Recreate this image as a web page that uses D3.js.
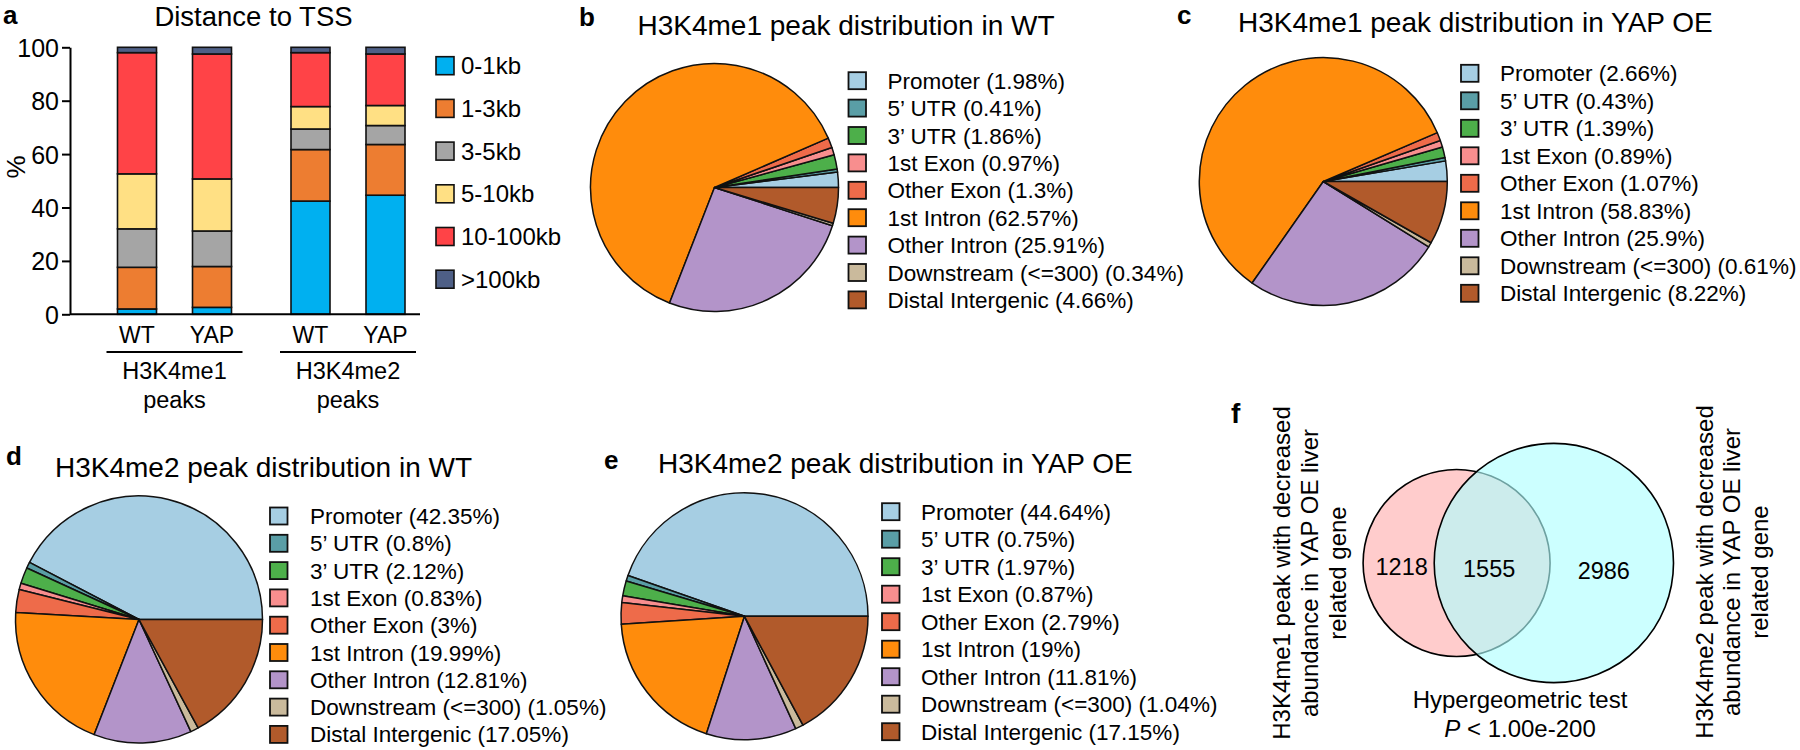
<!DOCTYPE html>
<html>
<head>
<meta charset="utf-8">
<script src="https://cdn.jsdelivr.net/npm/d3@7"></script>
<style>
  html, body { margin: 0; padding: 0; background: #fff; }
  svg { display: block; }
  text { font-family: "Liberation Sans", Arial, Helvetica, sans-serif; fill: #000; }
</style>
</head>
<body>
<svg id="chart" width="1800" height="750"></svg>
<script>
// ---------------- DATA ----------------
// Panel a: distance to TSS (stacked %)
const distCats = ["0-1kb", "1-3kb", "3-5kb", "5-10kb", "10-100kb", ">100kb"];
const distColors = ["#00B0F0", "#ED7D31", "#A5A5A5", "#FFE084", "#FF4347", "#4E5F86"];
const barGroups = ["H3K4me1", "H3K4me2"];
const barConds = ["WT", "YAP"];
const me1WT  = [2.0, 15.6, 14.4, 20.6, 45.4, 2.0];
const me1YAP = [2.6, 15.3, 13.3, 19.5, 46.8, 2.5];
const me2WT  = [42.4, 19.3, 7.7, 8.4, 20.2, 2.0];
const me2YAP = [44.6, 19.0, 7.1, 7.5, 19.3, 2.5];
const yTicks = [0, 20, 40, 60, 80, 100];

// Panels b-e: peak annotation (%)
const annoCats = ["Promoter", "5\u2019 UTR", "3\u2019 UTR", "1st Exon", "Other Exon",
                  "1st Intron", "Other Intron", "Downstream (<=300)", "Distal Intergenic"];
const annoColors = ["#A6CEE3", "#5A9EA6", "#4DAF4A", "#F88E8E", "#EE6B4A",
                    "#FF8C0C", "#B394C9", "#CABA9C", "#B15A2B"];
const annoMe1WT  = [1.98, 0.41, 1.86, 0.97, 1.3, 62.57, 25.91, 0.34, 4.66];
const annoMe1YAP = [2.66, 0.43, 1.39, 0.89, 1.07, 58.83, 25.9, 0.61, 8.22];
const annoMe2WT  = [42.35, 0.8, 2.12, 0.83, 3, 19.99, 12.81, 1.05, 17.05];
const annoMe2YAP = [44.64, 0.75, 1.97, 0.87, 2.79, 19, 11.81, 1.04, 17.15];

// Panel f: Venn
const vennOnlyA = 1218;
const vennBoth = 1555;
const vennOnlyB = 2986;

// ---------------- DRAW ----------------
const svg = d3.select("#chart");
svg.append("rect").attr("width", 1800).attr("height", 750).attr("fill", "#fff");

function txt(parent, x, y, s, size, opts = {}) {
  const t = parent.append("text")
    .attr("x", x).attr("y", y)
    .style("font-size", size + "px")
    .attr("text-anchor", opts.anchor || "start")
    .text(s);
  if (opts.bold) t.style("font-weight", "bold");
  if (opts.rotate) t.attr("transform", `rotate(${opts.rotate},${x},${y})`);
  return t;
}

// ===== Panel a =====
const ga = svg.append("g");
txt(ga, 3, 23.6, "a", 26, {bold: true});
txt(ga, 253.5, 25.5, "Distance to TSS", 27.5, {anchor: "middle"});

const y = d3.scaleLinear().domain([0, 100]).range([314.3, 47.3]);
const xg = d3.scalePoint().domain(barGroups).range([174.5, 348]);
const xc = d3.scalePoint().domain(barConds).range([-37.5, 37.5]);
const barW = 39;

const barRows = [
  {group: "H3K4me1", cond: "WT", vals: me1WT},
  {group: "H3K4me1", cond: "YAP", vals: me1YAP},
  {group: "H3K4me2", cond: "WT", vals: me2WT},
  {group: "H3K4me2", cond: "YAP", vals: me2YAP}
];
const tableRows = barRows.map(r => {
  const o = {group: r.group, cond: r.cond};
  distCats.forEach((c, i) => o[c] = r.vals[i]);
  return o;
});
const stacked = d3.stack().keys(distCats)(tableRows);

stacked.forEach((layer, li) => {
  ga.selectAll(null).data(layer).enter().append("rect")
    .attr("x", d => xg(d.data.group) + xc(d.data.cond) - barW / 2)
    .attr("y", d => y(d[1]))
    .attr("width", barW)
    .attr("height", d => y(d[0]) - y(d[1]))
    .attr("fill", distColors[li])
    .attr("stroke", "#111")
    .attr("stroke-width", 1.6);
});

// y axis
const yAxis = d3.axisLeft(y).tickValues(yTicks).tickSize(8).tickSizeOuter(0).tickPadding(3);
const yag = ga.append("g").attr("transform", "translate(70,0)").call(yAxis);
yag.select(".domain").attr("stroke", "#000").attr("stroke-width", 2);
yag.selectAll(".tick line").attr("stroke", "#000").attr("stroke-width", 2);
yag.selectAll(".tick text").style("font-size", "25px").attr("font-family", null).attr("dy", "0.36em");

// x baseline
ga.append("line").attr("x1", 70).attr("x2", 420).attr("y1", y(0)).attr("y2", y(0))
  .attr("stroke", "#000").attr("stroke-width", 2);

txt(ga, 25, 167, "%", 26, {anchor: "middle", rotate: -90});

// category labels
barRows.forEach(r => {
  txt(ga, xg(r.group) + xc(r.cond), 343, r.cond, 23, {anchor: "middle"});
});
barGroups.forEach(g => {
  const cx = xg(g);
  ga.append("line").attr("x1", cx - 68).attr("x2", cx + 68).attr("y1", 352).attr("y2", 352)
    .attr("stroke", "#000").attr("stroke-width", 1.8);
  txt(ga, cx, 378.5, g, 23.5, {anchor: "middle"});
  txt(ga, cx, 408, "peaks", 23.5, {anchor: "middle"});
});

// legend a
distCats.forEach((c, i) => {
  const cy = 65.7 + 42.7 * i;
  ga.append("rect").attr("x", 436).attr("y", cy - 9).attr("width", 18).attr("height", 18)
    .attr("fill", distColors[i]).attr("stroke", "#111").attr("stroke-width", 1.6);
  txt(ga, 461, cy + 8.5, c, 24);
});

// ===== Pie panels =====
const piePanels = [
  {tag: "b", title: "H3K4me1 peak distribution in WT", vals: annoMe1WT,
   cx: 714.5, cy: 187.5, r: 124, tagX: 579, tagY: 25.5, titleX: 637.5, titleY: 35,
   legX: 848.5, legY: 80.7, legDy: 27.4, textX: 887.5},
  {tag: "c", title: "H3K4me1 peak distribution in YAP OE", vals: annoMe1YAP,
   cx: 1323.3, cy: 181.5, r: 124, tagX: 1177, tagY: 24, titleX: 1238, titleY: 32,
   legX: 1461, legY: 73.3, legDy: 27.5, textX: 1500},
  {tag: "d", title: "H3K4me2 peak distribution in WT", vals: annoMe2WT,
   cx: 139, cy: 619.5, r: 123.5, tagX: 6, tagY: 465, titleX: 55, titleY: 476.7,
   legX: 270, legY: 516, legDy: 27.3, textX: 310},
  {tag: "e", title: "H3K4me2 peak distribution in YAP OE", vals: annoMe2YAP,
   cx: 744.5, cy: 616.3, r: 123.5, tagX: 604, tagY: 469, titleX: 658, titleY: 473,
   legX: 882, legY: 511.7, legDy: 27.5, textX: 921}
];

const pie = d3.pie().sort(null).value(d => d)
  .startAngle(Math.PI / 2).endAngle(Math.PI / 2 - 2 * Math.PI);

piePanels.forEach(p => {
  const g = svg.append("g");
  txt(g, p.tagX, p.tagY, p.tag, 26, {bold: true});
  txt(g, p.titleX, p.titleY, p.title, 28);
  const arc = d3.arc().innerRadius(0).outerRadius(p.r);
  g.append("g").attr("transform", `translate(${p.cx},${p.cy})`)
    .selectAll("path").data(pie(p.vals)).enter().append("path")
    .attr("d", arc)
    .attr("fill", (d, i) => annoColors[i])
    .attr("stroke", "#111").attr("stroke-width", 1.5).attr("stroke-linejoin", "round");
  annoCats.forEach((c, i) => {
    const cy = p.legY + p.legDy * i;
    g.append("rect").attr("x", p.legX).attr("y", cy - 8.5).attr("width", 17.5).attr("height", 17)
      .attr("fill", annoColors[i]).attr("stroke", "#111").attr("stroke-width", 1.8);
    txt(g, p.textX, cy + 8, `${c} (${p.vals[i]}%)`, 22.5);
  });
});

// ===== Panel f: Venn =====
const gf = svg.append("g");
txt(gf, 1231, 423, "f", 28, {bold: true});

const rScale = d3.scaleSqrt().domain([0, vennOnlyA + vennBoth]).range([0, 93.5]);
const rA = rScale(vennOnlyA + vennBoth);
const rB = rScale(vennBoth + vennOnlyB);
const k = rA / Math.sqrt(vennOnlyA + vennBoth);
const targetOverlap = Math.PI * k * k * vennBoth;
function lens(d, r1, r2) {
  if (d >= r1 + r2) return 0;
  if (d <= Math.abs(r1 - r2)) return Math.PI * Math.min(r1, r2) ** 2;
  const a1 = Math.acos((d * d + r1 * r1 - r2 * r2) / (2 * d * r1));
  const a2 = Math.acos((d * d + r2 * r2 - r1 * r1) / (2 * d * r2));
  return r1 * r1 * a1 + r2 * r2 * a2 -
    0.5 * Math.sqrt((-d + r1 + r2) * (d + r1 - r2) * (d - r1 + r2) * (d + r1 + r2));
}
let lo = Math.abs(rA - rB), hi = rA + rB;
for (let i = 0; i < 80; i++) {
  const mid = (lo + hi) / 2;
  if (lens(mid, rA, rB) > targetOverlap) lo = mid; else hi = mid;
}
const dist = (lo + hi) / 2;
const vennMidX = 1518.3, vennCy = 563;
const leftEdge = vennMidX - (rA + dist + rB) / 2;
const cxA = leftEdge + rA;
const cxB = cxA + dist;

gf.append("circle").attr("cx", cxA).attr("cy", vennCy).attr("r", rA)
  .attr("fill", "#FFCCCC").attr("stroke", "#000").attr("stroke-width", 1.6);
gf.append("circle").attr("cx", cxB).attr("cy", vennCy).attr("r", rB)
  .attr("fill", "rgb(174,255,255)").attr("fill-opacity", 0.63)
  .attr("stroke", "none");
gf.append("circle").attr("cx", cxB).attr("cy", vennCy).attr("r", rB)
  .attr("fill", "none").attr("stroke", "#000").attr("stroke-width", 1.6);

const aL = cxA - rA, bL = cxB - rB, aR = cxA + rA, bR = cxB + rB;
txt(gf, (aL + bL) / 2 + 3, 575, String(vennOnlyA), 23.5, {anchor: "middle"});
txt(gf, (bL + aR) / 2 - 3, 577, String(vennBoth), 23.5, {anchor: "middle"});
txt(gf, (aR + bR) / 2 - 8, 578.5, String(vennOnlyB), 23.5, {anchor: "middle"});

txt(gf, 1520, 708.3, "Hypergeometric test", 24, {anchor: "middle"});
const pt = gf.append("text").attr("x", 1520).attr("y", 736.7).attr("text-anchor", "middle")
  .style("font-size", "24px");
pt.append("tspan").style("font-style", "italic").text("P");
pt.append("tspan").text(" < 1.00e-200");

const leftLines = ["H3K4me1 peak with decreased", "abundance in YAP OE liver", "related gene"];
const rightLines = ["H3K4me2 peak with decreased", "abundance in YAP OE liver", "related gene"];
leftLines.forEach((s, i) => txt(gf, 1290 + 28 * i, 573, s, 24, {anchor: "middle", rotate: -90}));
rightLines.forEach((s, i) => txt(gf, 1712.5 + 27.5 * i, 572, s, 24, {anchor: "middle", rotate: -90}));
</script>
</body>
</html>
